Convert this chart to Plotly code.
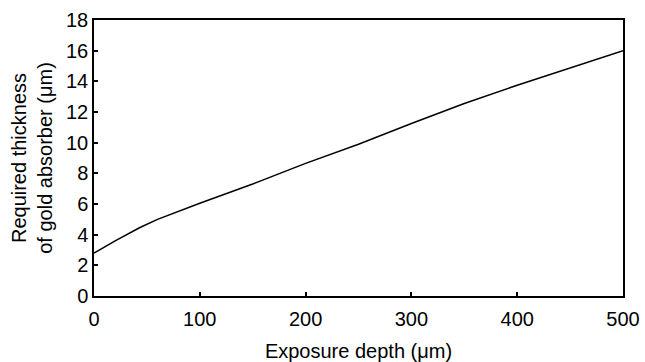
import plotly.graph_objects as go

depth_um = [0, 20, 43, 60, 100, 150, 200, 230, 250, 300, 350, 400, 450, 500]
gold_thickness_um = [2.8, 3.6, 4.45, 5.0, 6.05, 7.3, 8.65, 9.4, 9.9, 11.25, 12.55, 13.75, 14.9, 16.0]

x_ticks = [0, 100, 200, 300, 400, 500]
y_ticks = [0, 2, 4, 6, 8, 10, 12, 14, 16, 18]

font_family = "Liberation Sans, Arial, sans-serif"

fig = go.Figure()
fig.add_trace(go.Scatter(x=depth_um, y=gold_thickness_um, mode="lines",
                         line=dict(color="black", width=1.5), showlegend=False))

fig.update_layout(
    width=645, height=362,
    margin=dict(l=94, r=22, t=20, b=66, autoexpand=False),
    paper_bgcolor="white", plot_bgcolor="white",
    font=dict(family=font_family, size=20, color="black"),
)
fig.update_xaxes(
    range=[0, 500], tickvals=x_ticks, ticks="inside", ticklen=4, tickwidth=1.5,
    tickcolor="black", showline=True, linecolor="black", linewidth=1.5, mirror=True,
    showgrid=False, zeroline=False, automargin=False, ticklabelstandoff=4,
    title=dict(text="Exposure depth (μm)", font=dict(size=20), standoff=15),
)
fig.update_yaxes(
    range=[0, 18], tickvals=y_ticks, ticks="inside", ticklen=4, tickwidth=1.5,
    tickcolor="black", showline=True, linecolor="black", linewidth=1.5, mirror=True,
    showgrid=False, zeroline=False, automargin=False,
    title=dict(text="Required thickness<br>of gold absorber (μm)", font=dict(size=20), standoff=8),
)

# Remove the default 8px page margin so the figure fills the 645x362 window exactly.
fig.write_html("out.html", config={"displayModeBar": False},
               post_script="document.body.style.margin='0';")
